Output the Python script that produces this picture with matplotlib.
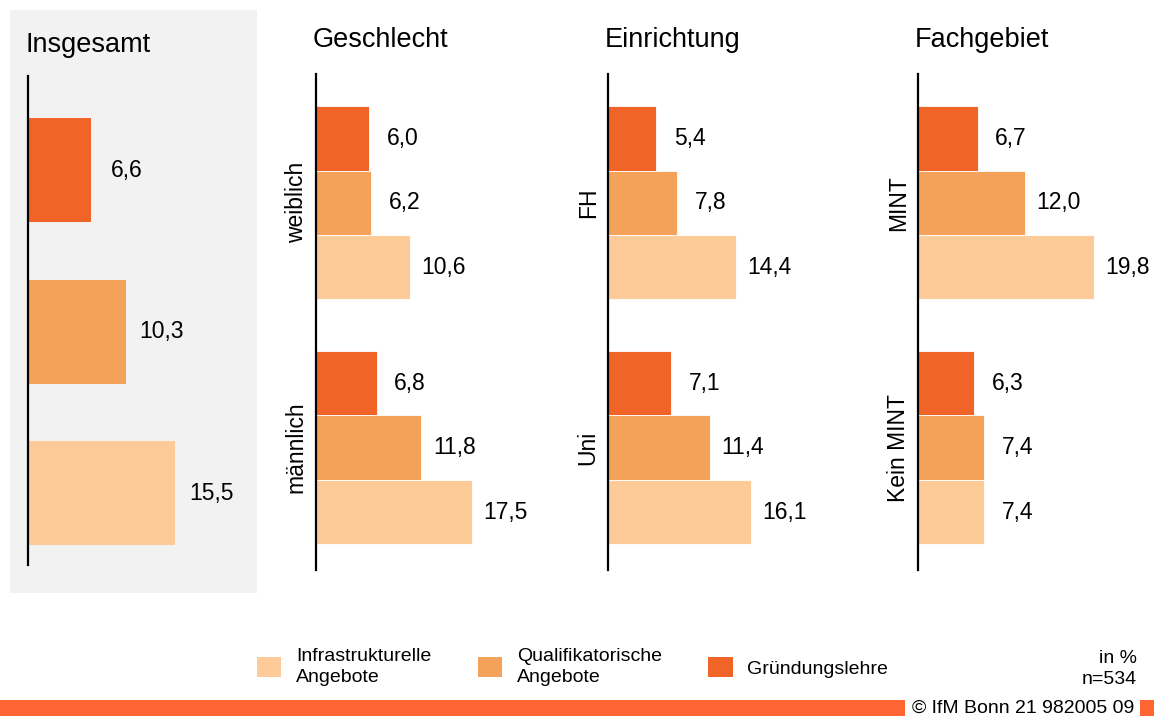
import numpy as np
import matplotlib
matplotlib.use("Agg")
import matplotlib.pyplot as plt
from matplotlib.patches import Rectangle

plt.rcParams['font.family'] = ['Liberation Sans', 'DejaVu Sans']

# Daten (in %), Reihenfolge je Gruppe: Gründungslehre, Qualifikatorische, Infrastrukturelle
serien = ["Gründungslehre", "Qualifikatorische\nAngebote", "Infrastrukturelle\nAngebote"]
farben = ["#F06427", "#F4A25A", "#FDCB98"]

insgesamt = [6.6, 10.3, 15.5]

geschlecht_gruppen = ["weiblich", "männlich"]
geschlecht = [[6.0, 6.2, 10.6], [6.8, 11.8, 17.5]]

einrichtung_gruppen = ["FH", "Uni"]
einrichtung = [[5.4, 7.8, 14.4], [7.1, 11.4, 16.1]]

fachgebiet_gruppen = ["MINT", "Kein MINT"]
fachgebiet = [[6.7, 12.0, 19.8], [6.3, 7.4, 7.4]]

W, H = 1154, 716
fig = plt.figure(figsize=(W / 100, H / 100), dpi=100)


def px_axes(left, top, width, height):
    return fig.add_axes([left / W, 1 - (top + height) / H, width / W, height / H])


def fmt(v):
    return f"{v:.1f}".replace('.', ',')


def stil(ax):
    ax.set_facecolor('none')
    for s in ['top', 'right', 'bottom']:
        ax.spines[s].set_visible(False)
    ax.spines['left'].set_linewidth(1.6)
    ax.spines['left'].set_color('black')
    ax.set_xticks([])
    ax.set_xlim(0, 22)


# grauer Hintergrund Insgesamt
fig.patches.append(Rectangle((10 / W, 1 - 593 / H), 247 / W, 583 / H,
                             transform=fig.transFigure, facecolor='#F2F2F2',
                             edgecolor='none', zorder=-5))

# Panel Insgesamt
ax0 = px_axes(28, 76, 209, 489)
stil(ax0)
ax0.set_ylim(4.69, 0)
ax0.set_yticks([])
handles = []
for k, v in enumerate(insgesamt):
    y = 0.404 + k * 1.548 + 0.5
    b = ax0.barh(y, v, height=1.0, color=farben[k], label=serien[k])
    handles.append(b)
    ax0.annotate(fmt(v), xy=(v, y), xytext=(26, 0), textcoords='offset points',
                 ha='center', va='center', fontsize=16.5)
fig.text(25 / W, 1 - 45 / H, "Insgesamt", fontsize=19.5, ha='left', va='center')

# Panels mit Gruppen
panels = [
    (316, "Geschlecht", geschlecht_gruppen, geschlecht),
    (608, "Einrichtung", einrichtung_gruppen, einrichtung),
    (918, "Fachgebiet", fachgebiet_gruppen, fachgebiet),
]
for left, titel, gruppen, werte in panels:
    ax = px_axes(left, 74, 196, 496)
    stil(ax)
    ax.set_ylim(7.7, 0)
    mitten = []
    for g, gruppe in enumerate(werte):
        start = 0.5 + g * 3.8
        mitten.append(start + 1.5)
        for k, v in enumerate(gruppe):
            y = start + k + 0.5
            ax.barh(y, v, height=1.0, color=farben[k], edgecolor='white', linewidth=0.6)
            ax.annotate(fmt(v), xy=(v, y), xytext=(24, 0), textcoords='offset points',
                        ha='center', va='center', fontsize=16.5)
    ax.set_yticks(mitten)
    ax.set_yticklabels(gruppen, rotation=90, va='center', fontsize=16.5)
    ax.tick_params(axis='y', length=0, pad=6)
    fig.text((left - 3) / W, 1 - 40 / H, titel, fontsize=19.5, ha='left', va='center')

# Legende
reihenfolge = [2, 1, 0]
leg = fig.legend([handles[i] for i in reihenfolge], [serien[i] for i in reihenfolge],
                 ncol=3, loc='center left', bbox_to_anchor=(257 / W, 1 - 667 / H),
                 frameon=False, fontsize=14, handlelength=1.25, handleheight=1.25,
                 handletextpad=0.75, columnspacing=2.4, borderaxespad=0, borderpad=0)
plt.setp(leg.get_texts(), linespacing=1.35)

fig.text(1137 / W, 1 - 669 / H, "in %\nn=534", fontsize=14, ha='right', va='center',
         multialignment='right', linespacing=1.35)

# Fußleiste
fig.patches.append(Rectangle((0, 0), 905 / W, 16 / H, transform=fig.transFigure,
                             facecolor='#FF6633', edgecolor='none'))
fig.patches.append(Rectangle((1140 / W, 0), 14 / W, 16 / H, transform=fig.transFigure,
                             facecolor='#FF6633', edgecolor='none'))
fig.text(1134 / W, 8 / H, "© IfM Bonn 21 982005 09", fontsize=14, ha='right', va='center')

fig.savefig('out.png', dpi=100)
